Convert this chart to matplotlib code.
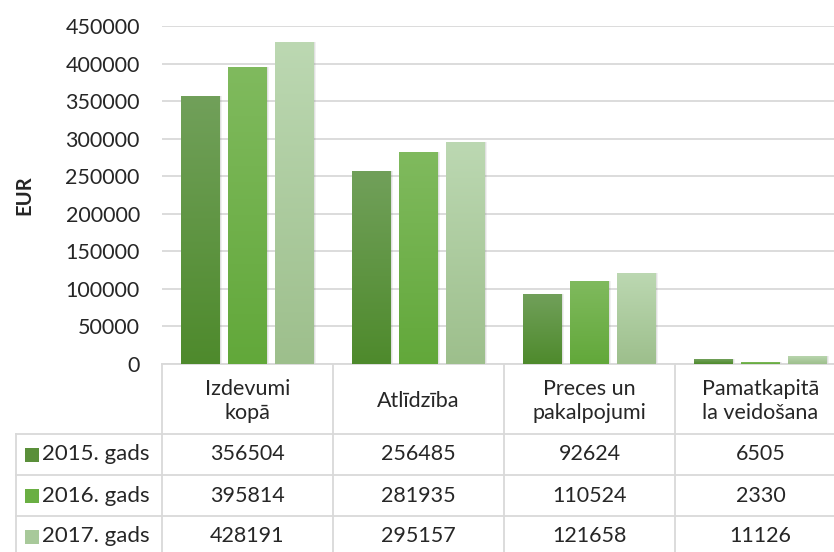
import numpy as np
import matplotlib
matplotlib.use('Agg')
import matplotlib.pyplot as plt
from matplotlib.colors import LinearSegmentedColormap

plt.rcParams['font.family'] = ['Lato', 'DejaVu Sans']

categories = ['Izdevumi\nkopā', 'Atlīdzība', 'Preces un\npakalpojumi', 'Pamatkapitā\nla veidošana']
series = ['2015. gads', '2016. gads', '2017. gads']
v2015 = [356504, 256485, 92624, 6505]
v2016 = [395814, 281935, 110524, 2330]
v2017 = [428191, 295157, 121658, 11126]
values = [v2015, v2016, v2017]
yticks = [0, 50000, 100000, 150000, 200000, 250000, 300000, 350000, 400000, 450000]

# gradient colours per series (bottom, top) and legend key colour
grad = [('#4e8a2c', '#71a05a'), ('#62a83a', '#80ba5e'), ('#9dbf8c', '#bcd8b2')]
keys = ['#5a8f3a', '#6aaf43', '#a8c99a']

W, H = 834, 552
fig = plt.figure(figsize=(W / 100, H / 100), dpi=100)

x_left, x_right = 162, 846
y_top, y_zero = 26, 364
ax = fig.add_axes([x_left / W, (H - y_zero) / H, (x_right - x_left) / W, (y_zero - y_top) / H])
ax.set_xlim(-0.5, 3.5)
ax.set_ylim(0, 450000)

px = (x_right - x_left) / 4.0  # pixels per category
offsets = [-0.275, 0, 0.275]
bw = 0.225
grad_img = np.linspace(0, 1, 256).reshape(-1, 1)

for s in range(3):
    cmap = LinearSegmentedColormap.from_list('g%d' % s, [grad[s][0], grad[s][1]])
    for i in range(4):
        x = i + offsets[s]
        h = values[s][i]
        # soft shadow
        for k, a in [(3, 0.10), (2, 0.15), (1, 0.2)]:
            ax.bar(x + k * 0.6 / px, h, bw, color='#7f7f7f', alpha=a, zorder=2, linewidth=0)
        b = ax.bar(x, h, bw, color=grad[s][0], zorder=3, linewidth=0)[0]
        im = ax.imshow(grad_img, cmap=cmap, extent=[x - bw / 2, x + bw / 2, 0, h],
                       origin='lower', aspect='auto', zorder=4)
        im.set_clip_path(b)

ax.set_xlim(-0.5, 3.5)
ax.set_ylim(0, 450000)
ax.set_aspect('auto')
ax.set_yticks(yticks)
ax.set_yticklabels([str(t) for t in yticks])
ax.grid(axis='y', color='#d9d9d9', linewidth=1.3, zorder=0)
ax.set_axisbelow(True)
ax.set_xticks([])
for sp in ['top', 'right', 'left']:
    ax.spines[sp].set_visible(False)
ax.spines['bottom'].set_color('#d9d9d9')
ax.spines['bottom'].set_linewidth(1.3)
ax.tick_params(axis='y', length=0, pad=16, labelsize=15.5, labelcolor='#262626')
ax.set_ylabel('EUR', fontsize=14.5, fontweight='bold', color='#262626', labelpad=22)

# data table below the chart
tax = fig.add_axes([x_left / W, 0, (x_right - x_left) / W, (H - y_zero) / H])
tax.set_xlim(-0.5, 3.5)
tax.set_ylim(H - y_zero, 0)
tax.axis('off')

lc = '#d9d9d9'
lw = 1.3
hdr = 434 - y_zero
row_h = 41
row_lines = [hdr + row_h * r for r in range(4)]
left_x = -0.5 - (x_left - 16) / px
for yl in row_lines:
    tax.plot([left_x, 3.5], [yl, yl], color=lc, lw=lw, clip_on=False)
tax.plot([left_x, left_x], [hdr, 300], color=lc, lw=lw, clip_on=False)
for xb in [-0.5, 0.5, 1.5, 2.5]:
    tax.plot([xb, xb], [0, 300], color=lc, lw=lw, clip_on=False)

for i, c in enumerate(categories):
    tax.text(i, hdr / 2 + 2, c, ha='center', va='center', fontsize=15.5,
             color='#262626', linespacing=1.25)

for s in range(3):
    yc = hdr + row_h * s + row_h / 2
    kx = -0.5 - (x_left - 32) / px
    tax.scatter([kx], [yc], marker='s', s=95, color=keys[s], clip_on=False, linewidths=0)
    tax.text(-0.5 - (x_left - 42) / px, yc, series[s], ha='left', va='center',
             fontsize=16, color='#262626', clip_on=False)
    for i in range(4):
        tax.text(i, yc, str(values[s][i]), ha='center', va='center',
                 fontsize=15.5, color='#262626')

fig.savefig('out.png', dpi=100)
